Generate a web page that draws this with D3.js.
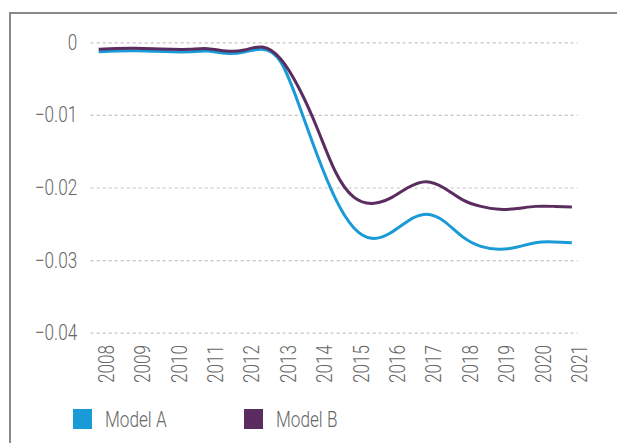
<!DOCTYPE html>
<html>
<head>
<meta charset="utf-8">
<script src="https://cdn.jsdelivr.net/npm/d3@7"></script>
<style>
  body { margin: 0; background: #fff; }
  text { font-family: "Roboto", "Liberation Sans", sans-serif; font-weight: 300; fill: #666; }
</style>
</head>
<body>
<div id="chart"></div>
<script>
// half-year readings
const times = [2008, 2008.5, 2009, 2009.5, 2010, 2010.5, 2011, 2011.5, 2012, 2012.5, 2013, 2013.5, 2014, 2014.5,
  2015, 2015.5, 2016, 2016.5, 2017, 2017.5, 2018, 2018.5, 2019, 2019.5, 2020, 2020.5, 2021]
const modelA = [-0.0013, -0.0012, -0.00117, -0.00123, -0.0013, -0.0013, -0.0012, -0.00152, -0.00134, -0.00096, -0.0027, -0.0086, -0.0155, -0.0215,
  -0.0255, -0.0270, -0.0263, -0.0246, -0.0237, -0.0247, -0.0268, -0.0281, -0.0285, -0.0282, -0.0276, -0.0275, -0.0276]
const modelB = [-0.00096, -0.00085, -0.00083, -0.00088, -0.00096, -0.00096, -0.00088, -0.0012, -0.00106, -0.00065, -0.0023, -0.0063, -0.0118, -0.0178,
  -0.0213, -0.0222, -0.0215, -0.0200, -0.0192, -0.0201, -0.0217, -0.0226, -0.0230, -0.0229, -0.0226, -0.0226, -0.0227]
const years = d3.range(2008, 2022)
const yTicks = [0, -0.01, -0.02, -0.03, -0.04]
const seriesNames = ["Model A", "Model B"]
const colors = ["#1a9ad7", "#5b2c5f"]

const width = 617
const height = 443
const margin = { top: 42.3, left: 98.7, right: 45.1, bottom: 110.3 }
const fontSize = 22
const squeeze = 0.78   // condensed look

const svg = d3.select("#chart").append("svg")
    .attr("width", width)
    .attr("height", height)

const x = d3.scaleLinear()
    .domain([2008, 2021])
    .range([margin.left, width - margin.right])

const y = d3.scaleLinear()
    .domain([0, -0.04])
    .range([margin.top, height - margin.bottom])

// frame (top + left only)
svg.append("path")
    .attr("d", `M10,${height} V13 H${width}`)
    .attr("fill", "none")
    .attr("stroke", "#8a8a8a")
    .attr("stroke-width", 2)

// gridlines + y labels
const yAxis = g => g
    .call(d3.axisLeft(y).tickValues(yTicks).tickSize(0)
        .tickFormat(d => d === 0 ? "0" : d3.format(".2f")(d).replace("-", "\u2013")))
    .attr("transform", `translate(90.7,0)`)
    .call(g => g.select(".domain").remove())
    .call(g => g.selectAll(".tick line").clone()
        .attr("x2", 577.7 - 90.7)
        .attr("stroke", "#c4c4c4")
        .attr("stroke-width", 1.2)
        .attr("stroke-dasharray", "3,3"))
    .call(g => g.selectAll(".tick text")
        .attr("font-size", fontSize)
        .attr("fill", "#666")
        .attr("font-family", null)
        .attr("x", -13.5 / squeeze)
        .attr("transform", `scale(${squeeze},1)`))

svg.append("g").call(yAxis)

// x labels (rotated)
svg.append("g")
    .selectAll("text")
    .data(years)
    .join("text")
    .attr("transform", d => `translate(${x(d) + 7.3},345) rotate(-90) scale(${squeeze},1)`)
    .attr("dy", "0.35em")
    .attr("text-anchor", "end")
    .attr("font-size", fontSize)
    .text(d => d)

const line = d3.line()
    .x((d, i) => x(times[i]))
    .y(d => y(d))
    .curve(d3.curveNatural)

svg.append("g")
    .attr("fill", "none")
    .attr("stroke-width", 3)
    .attr("stroke-linejoin", "round")
    .selectAll("path")
    .data([modelA, modelB])
    .join("path")
    .attr("stroke", (d, i) => colors[i])
    .attr("d", d => line(d))

// legend
const legendX = [73, 244]
const legend = svg.append("g")
    .selectAll("g")
    .data(seriesNames)
    .join("g")
    .attr("transform", (d, i) => `translate(${legendX[i]},409)`)

legend.append("rect")
    .attr("width", 19)
    .attr("height", 20)
    .attr("fill", (d, i) => colors[i])

legend.append("text")
    .attr("transform", `translate(32,10) scale(${squeeze},1)`)
    .attr("dy", "0.35em")
    .attr("font-size", fontSize)
    .text(d => d)
</script>
</body>
</html>
